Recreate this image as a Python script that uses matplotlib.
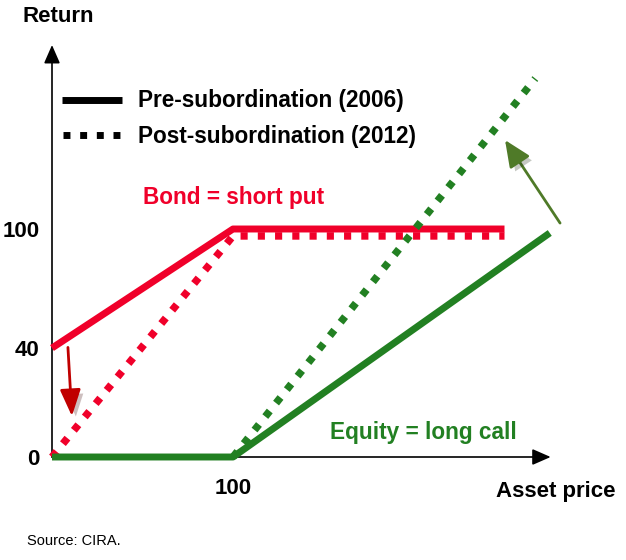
import numpy as np
import matplotlib
matplotlib.use("Agg")
import matplotlib.pyplot as plt
import matplotlib.patheffects as pe
from matplotlib.lines import Line2D

plt.rcParams['font.family'] = ['Liberation Sans', 'DejaVu Sans']

# payoff profiles (asset price, return)
bond_pre_x = [0, 100, 250]
bond_pre_y = [40, 100, 100]
bond_post_x = [0, 100, 250]
bond_post_y = [0, 96.5, 96.5]
eq_pre_x = [0, 100, 275]
eq_pre_y = [0, 0, 98]
eq_post_x = [100, 267]
eq_post_y = [0, 166]

y_ticks = [0, 40, 100]
x_ticks = [100]

RED = '#F0002A'
GREEN = '#228022'
W, H = 626, 560


def fx(px):
    return px / W


def fy(py):
    return 1 - py / H


# the schematic's y axis is not drawn to scale: 40 sits higher than linear
ybrk = [-100, 0, 40, 100, 400]
vbrk = [-100, 0, 47.8, 100, 400]


def fwd(y):
    return np.interp(y, ybrk, vbrk)


def inv(v):
    return np.interp(v, vbrk, ybrk)


fig = plt.figure(figsize=(W / 100, H / 100), dpi=100)
ax = fig.add_axes([fx(52), fy(457), 508 / W, 417 / H])
ax.set_yscale('function', functions=(fwd, inv))
ax.set_xlim(0, 508 / 1.81)
ax.set_ylim(0, 417 / 2.28)
for s in ax.spines.values():
    s.set_visible(False)

# axes with arrow heads
arr = dict(arrowstyle='-|>,head_length=0.8,head_width=0.35', color='black',
           lw=1.2, mutation_scale=14, shrinkA=0, shrinkB=0)
ax.annotate('', xy=(0, 180.7), xytext=(0, 0), arrowprops=arr, annotation_clip=False)
ax.annotate('', xy=(275.5, 0), xytext=(0, 0), arrowprops=arr, annotation_clip=False)

lw = 5
dot = (1.0, 1.45)
dlw = 5.4
ddot = (0.95, 1.35)
ax.plot(bond_pre_x, bond_pre_y, color=RED, lw=lw, solid_capstyle='butt', clip_on=False, zorder=3)
ax.plot(bond_post_x, bond_post_y, color=RED, lw=dlw, dashes=ddot, dash_capstyle='butt',
        clip_on=False, zorder=3)
ax.plot(eq_pre_x, eq_pre_y, color=GREEN, lw=lw, solid_capstyle='butt', clip_on=False, zorder=3)
ax.plot(eq_post_x, eq_post_y, color=GREEN, lw=dlw, dashes=ddot, dash_capstyle='butt',
        clip_on=False, zorder=3)

ax.set_yticks(y_ticks)
ax.set_yticklabels([str(t) for t in y_ticks])
ax.set_xticks(x_ticks)
ax.set_xticklabels([str(t) for t in x_ticks])
ax.tick_params(length=0, labelsize=16)
ax.tick_params(axis='y', pad=9)
ax.tick_params(axis='x', pad=15)
for lab in ax.get_xticklabels() + ax.get_yticklabels():
    lab.set_fontweight('bold')

# shift arrows
shadow = [pe.SimplePatchShadow(offset=(3, -3), alpha=0.25), pe.Normal()]
a1 = ax.annotate('', xy=(11, 15), xytext=(8.8, 40.3),
                 arrowprops=dict(arrowstyle='-|>,head_length=0.9,head_width=0.35',
                                 color='#C00000', lw=2, mutation_scale=18,
                                 shrinkA=0, shrinkB=0), annotation_clip=False)
a1.arrow_patch.set_path_effects(shadow)
a2 = ax.annotate('', xy=(250.3, 139), xytext=(280.7, 102.6),
                 arrowprops=dict(arrowstyle='-|>,head_length=0.9,head_width=0.4',
                                 color='#4F7A28', lw=2, mutation_scale=18,
                                 shrinkA=0, shrinkB=0), annotation_clip=False)
a2.arrow_patch.set_path_effects(shadow)

# legend drawn by hand
fig.add_artist(Line2D([fx(62), fx(122)], [fy(100), fy(100)], color='black', lw=5,
                      solid_capstyle='butt'))
fig.add_artist(Line2D([fx(63), fx(122)], [fy(135), fy(135)], color='black', lw=5,
                      dashes=(1.0, 1.4), dash_capstyle='butt'))
fig.text(fx(138), fy(101), 'Pre-subordination (2006)', fontsize=16.3, fontweight='bold',
         va='center', ha='left')
fig.text(fx(138), fy(136), 'Post-subordination (2012)', fontsize=16.3, fontweight='bold',
         va='center', ha='left')

fig.text(fx(143), fy(197), 'Bond = short put', fontsize=16.3, fontweight='bold',
         color=RED, va='center', ha='left')
fig.text(fx(330), fy(432), 'Equity = long call', fontsize=16.3, fontweight='bold',
         color=GREEN, va='center', ha='left')

fig.text(fx(22), fy(17), 'Return', fontsize=16, fontweight='bold', va='center', ha='left')
fig.text(fx(616), fy(492), 'Asset price', fontsize=16, fontweight='bold',
         va='center', ha='right')
fig.text(fx(27), fy(541), 'Source: CIRA.', fontsize=10.5, va='center', ha='left')

fig.savefig('out.png', dpi=100)
